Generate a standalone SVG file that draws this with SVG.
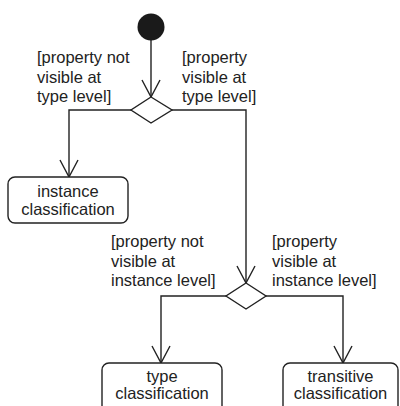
<svg xmlns="http://www.w3.org/2000/svg" width="400" height="406" viewBox="0 0 400 406">
<defs>
<marker id="arr" markerUnits="userSpaceOnUse" markerWidth="20" markerHeight="20" viewBox="-18 -10 20 20" refX="0" refY="0" orient="auto">
<path d="M-17,-9 L0,0 L-17,9" fill="none" stroke="#222" stroke-width="1.4"/>
</marker>
</defs>
<style>
text{font-family:"Liberation Sans",Arial,Helvetica,sans-serif;font-size:16.5px;fill:#222}
.g{font-size:17px}
.c{text-anchor:middle}
.box{fill:#fff;stroke:#222;stroke-width:1.4}
.edge{fill:none;stroke:#222;stroke-width:1.4;marker-end:url(#arr)}
.dec{fill:#fff;stroke:#222;stroke-width:1.4}
</style>
<rect width="400" height="406" fill="#fff"/>
<g id="connectors">
<path class="edge" d="M151,40 V97"/>
<path class="edge" d="M131,110 H69 V177"/>
<path class="edge" d="M172,110 H246 V283"/>
<path class="edge" d="M226,296 H161 V363"/>
<path class="edge" d="M266,296 H343 V363"/>
</g>
<g id="start"><circle cx="151" cy="27" r="13.5" fill="#1a1a1a"/></g>
<g id="decision1"><polygon class="dec" points="151,97 172,110 151,123 131,110"/></g>
<g id="decision2"><polygon class="dec" points="246,283 266,296 246,309 226,296"/></g>
<g id="guard1" class="g">
<text x="37" y="63">[property not</text>
<text x="37" y="82.5">visible at</text>
<text x="37" y="102">type level]</text>
</g>
<g id="guard2" class="g">
<text x="182" y="63">[property</text>
<text x="182" y="82.5">visible at</text>
<text x="182" y="102">type level]</text>
</g>
<g id="guard3" class="g">
<text x="111" y="247">[property not</text>
<text x="111" y="266.5">visible at</text>
<text x="111" y="286">instance level]</text>
</g>
<g id="guard4" class="g">
<text x="272" y="247">[property</text>
<text x="272" y="266.5">visible at</text>
<text x="272" y="286">instance level]</text>
</g>
<g id="instance">
<rect class="box" x="8" y="177" width="120" height="46" rx="7"/>
<text class="c" x="68" y="197">instance</text>
<text class="c" x="68" y="215">classification</text>
</g>
<g id="type">
<rect class="box" x="102" y="363" width="120" height="50" rx="7"/>
<text class="c" x="162" y="382">type</text>
<text class="c" x="162" y="399">classification</text>
</g>
<g id="transitive">
<rect class="box" x="283" y="363" width="115" height="50" rx="7"/>
<text class="c" x="340.5" y="382">transitive</text>
<text class="c" x="340.5" y="399">classification</text>
</g>
</svg>
